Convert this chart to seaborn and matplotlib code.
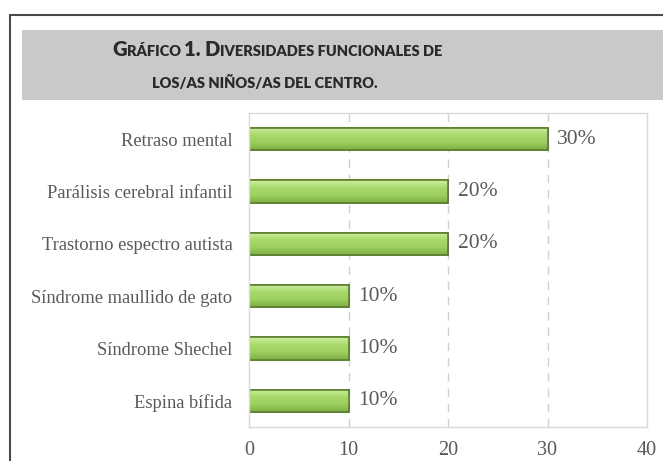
import numpy as np
import pandas as pd
import matplotlib
matplotlib.use("Agg")
import matplotlib.pyplot as plt
import matplotlib.patches as mpatches
from matplotlib.lines import Line2D
from matplotlib.colors import LinearSegmentedColormap
import seaborn as sns

# data
categories = ["Retraso mental", "Parálisis cerebral infantil", "Trastorno espectro autista",
              "Síndrome maullido de gato", "Síndrome Shechel", "Espina bífida"]
percentages = [30, 20, 20, 10, 10, 10]
x_ticks = [0, 10, 20, 30, 40]

df = pd.DataFrame({"categoria": categories, "pct": percentages})

sns.set_theme(style="white")
plt.rcParams["font.family"] = ["Liberation Serif", "DejaVu Serif"]

W, H = 663, 461
fig = plt.figure(figsize=(W / 100, H / 100), dpi=100)
ax = fig.add_axes([249 / W, 1 - 427 / H, (647 - 249) / W, (427 - 113) / H])

sns.barplot(data=df, x="pct", y="categoria", orient="h", ax=ax, width=0.43,
            color="#a5d66a", edgecolor="#5b7f2e", linewidth=1.2, saturation=1)

# glossy look: vertical gradient clipped to each bar
grad = LinearSegmentedColormap.from_list("g", ["#cdeea2", "#a9da6c", "#9ccf5e", "#7fae45"])
g = np.linspace(0, 1, 64).reshape(-1, 1)
for p in ax.patches:
    x0, y0, w, h = p.get_x(), p.get_y(), p.get_width(), p.get_height()
    im = ax.imshow(g, cmap=grad, aspect="auto", extent=(x0, x0 + w, y0 + h, y0), zorder=p.get_zorder() + 0.1)
    im.set_clip_path(p)
    edge = mpatches.Rectangle((x0, y0), w, h, fill=False, edgecolor="#5b7f2e", linewidth=1.2,
                              zorder=p.get_zorder() + 0.2)
    ax.add_patch(edge)

ax.bar_label(ax.containers[0], labels=[f"{v}%" for v in percentages], padding=7,
             fontsize=15.5, color="#595959")

ax.set_xlim(x_ticks[0], x_ticks[-1])
ax.set_ylim(len(categories) - 0.5, -0.5)
ax.set_xticks(x_ticks)
ax.set_xticklabels([str(t) for t in x_ticks], fontsize=14.5, color="#595959")
ax.tick_params(axis="x", length=0, pad=10)
ax.tick_params(axis="y", length=0, pad=12, labelsize=13.3, labelcolor="#595959")
ax.set_xlabel("")
ax.set_ylabel("")
for t in x_ticks[1:-1]:
    ax.axvline(t, color="#d0d0d0", linestyle=(0, (6, 5)), linewidth=1, zorder=0)
for s in ax.spines.values():
    s.set_visible(True)
    s.set_color("#d9d9d9")
    s.set_linewidth(1)

# outer frame and grey title band
fig.add_artist(Line2D([10 / W, 10 / W], [0, 1 - 15 / H], color="#4a4a4a", linewidth=1.5))
fig.add_artist(Line2D([10 / W, 1], [1 - 15 / H, 1 - 15 / H], color="#4a4a4a", linewidth=1.5))
fig.add_artist(mpatches.Rectangle((22 / W, 1 - 100 / H), 1, 70 / H, transform=fig.transFigure,
                                  facecolor="#c8c9cb", edgecolor="none", zorder=-1))

# small-caps title built from chained pieces
tfont = ["Lato", "DejaVu Sans"]
big, small = 14.5, 10.5


def title_line(pieces, x0, base):
    prev = None
    for txt, size in pieces:
        if prev is None:
            prev = ax.annotate(txt, xy=(x0, H - base), xycoords="figure pixels", ha="left",
                               va="baseline", fontsize=size, fontweight="heavy", color="#2a2a2a",
                               family=tfont, annotation_clip=False)
        else:
            prev = ax.annotate(txt, xy=(1, H - base), xycoords=(prev, "figure pixels"), ha="left",
                               va="baseline", fontsize=size, fontweight="heavy", color="#2a2a2a",
                               family=tfont, annotation_clip=False)


title_line([("G", big), ("RÁFICO ", small), ("1. D", big), ("IVERSIDADES FUNCIONALES DE", small)], 112, 56)
title_line([("LOS/AS NIÑOS/AS DEL CENTRO.", small)], 152, 88)

fig.savefig("out.png", dpi=100)
